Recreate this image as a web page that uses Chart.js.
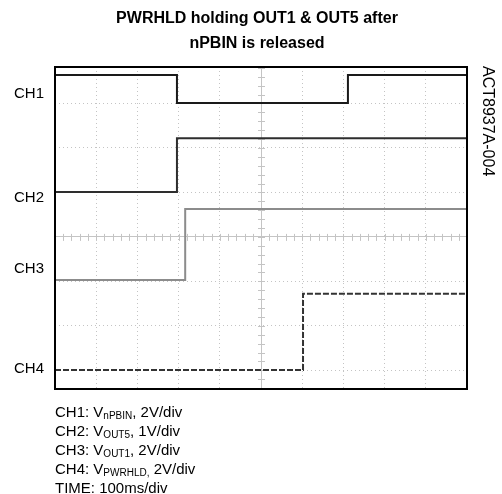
<!DOCTYPE html>
<html>
<head>
<meta charset="utf-8">
<script src="https://cdn.jsdelivr.net/npm/chart.js@4.4.1/dist/chart.umd.min.js"></script>
<style>
  body { margin: 0; background: #fff; font-family: "Liberation Sans", Arial, sans-serif; color: #000; }
  #wrap { position: absolute; left: 0; top: 0; width: 502px; height: 494px; }
  .title { position: absolute; left: 0; top: 5px; width: 514px; text-align: center;
           font-weight: bold; font-size: 16px; line-height: 25px; }
  .chlabel { position: absolute; left: 14px; font-size: 15px; line-height: 16px; }
  .side { position: absolute; left: 479px; top: 66px; writing-mode: vertical-rl;
          font-size: 16px; line-height: 18px; }
  .notes { position: absolute; left: 55px; top: 402px; font-size: 15px; line-height: 19px; }
  .notes span { font-size: 10px; line-height: 0; position: relative; top: 2px; }
</style>
</head>
<body>
<div id="wrap"><canvas id="scope"></canvas></div>
<div class="title">PWRHLD holding OUT1 &amp; OUT5 after<br>nPBIN is released</div>
<div class="side">ACT8937A-004</div>
<div id="labels"></div>
<div class="notes" id="notes"></div>

<script>
// Channel info
const channels = ['CH1', 'CH2', 'CH3', 'CH4'];
const signalNames = ['nPBIN', 'OUT5', 'OUT1', 'PWRHLD'];
const voltsPerDiv = ['2V/div', '1V/div', '2V/div', '2V/div'];
const timePerDiv = '100ms/div';
const labelTops = [85, 189, 260, 360];

// Traces, in screen divisions (x: 0..10 div, y: 0 = centre line)
const ch1Time = [0, 2.96, 7.11, 10];
const ch1Level = [3.64, 3.01, 3.64, 3.64];
const ch2Time = [0, 2.96, 10];
const ch2Level = [1.01, 2.22, 2.22];
const ch3Time = [0, 3.16, 10];
const ch3Level = [-0.97, 0.63, 0.63];
const ch4Time = [0, 6.02, 10];
const ch4Level = [-2.99, -1.28, -1.28];

// Visible part of the scope screen
const Y_MIN = -3.42;
const Y_MAX = 3.82;
const Y_GRID = [-3, -2, -1, 0, 1, 2, 3];

function toPoints(times, levels) {
  return times.map((t, i) => ({ x: t, y: levels[i] }));
}

// Text blocks
document.getElementById('labels').innerHTML = channels.map((ch, i) =>
  `<div class="chlabel" style="top:${labelTops[i]}px">${ch}</div>`).join('');

// the PWRHLD line has its comma inside the subscript
document.getElementById('notes').innerHTML = channels.map((ch, i) => {
  const sub = i === 3 ? `<span>${signalNames[i]},</span>` : `<span>${signalNames[i]}</span>,`;
  return `${ch}: V${sub} ${voltsPerDiv[i]}`;
}).join('<br>') + `<br>TIME: ${timePerDiv}`;

const GRID_GREY = '#c4c4c4';

// Frame and the small marks along the centre lines
const scopeFrame = {
  id: 'scopeFrame',
  beforeDatasetsDraw(chart) {
    const { ctx, scales: { x, y } } = chart;
    const cx = x.getPixelForValue(5);
    const cy = y.getPixelForValue(0);
    ctx.save();
    ctx.strokeStyle = GRID_GREY;
    ctx.lineWidth = 1;
    ctx.beginPath();
    for (let k = 1; k < 50; k++) {
      const px = Math.round(x.getPixelForValue(k / 5)) + 0.5;
      ctx.moveTo(px, cy - 3);
      ctx.lineTo(px, cy + 4);
    }
    for (let k = -17; k <= 19; k++) {
      const py = Math.round(y.getPixelForValue(k / 5)) + 0.5;
      ctx.moveTo(cx - 3, py);
      ctx.lineTo(cx + 4, py);
    }
    ctx.stroke();
    ctx.restore();
  },
  afterDraw(chart) {
    const { ctx, chartArea: a } = chart;
    ctx.save();
    ctx.strokeStyle = '#000';
    ctx.lineWidth = 2;
    ctx.strokeRect(a.left, a.top, a.right - a.left, a.bottom - a.top);
    ctx.restore();
  }
};

const ctx = document.getElementById('scope').getContext('2d');

new Chart(ctx, {
  type: 'line',
  data: {
    datasets: [
      { label: 'CH1', data: toPoints(ch1Time, ch1Level), borderColor: '#1a1a1a', borderWidth: 2 },
      { label: 'CH2', data: toPoints(ch2Time, ch2Level), borderColor: '#2e2e2e', borderWidth: 2 },
      { label: 'CH3', data: toPoints(ch3Time, ch3Level), borderColor: '#8c8c8c', borderWidth: 2 },
      { label: 'CH4', data: toPoints(ch4Time, ch4Level), borderColor: '#333333', borderWidth: 2, borderDash: [6, 2] }
    ]
  },
  options: {
    responsive: true,
    maintainAspectRatio: false,
    animation: false,
    layout: { padding: { left: 55, top: 67, right: 35, bottom: 105 } },
    elements: {
      point: { radius: 0 },
      line: { stepped: 'before', tension: 0, fill: false }
    },
    plugins: {
      legend: { display: false },
      tooltip: { enabled: false }
    },
    scales: {
      x: {
        type: 'linear',
        min: 0,
        max: 10,
        ticks: { display: false, stepSize: 1 },
        grid: {
          drawTicks: false,
          color: GRID_GREY,
          lineWidth: 1
        },
        border: {
          display: false,
          dash: (c) => (c.tick && c.tick.value === 5 ? [] : [1, 3])
        }
      },
      y: {
        type: 'linear',
        min: Y_MIN,
        max: Y_MAX,
        afterBuildTicks: (scale) => {
          scale.ticks = Y_GRID.map(v => ({ value: v }));
        },
        ticks: { display: false },
        grid: {
          drawTicks: false,
          color: GRID_GREY,
          lineWidth: 1
        },
        border: {
          display: false,
          dash: (c) => (c.tick && c.tick.value === 0 ? [] : [1, 3])
        }
      }
    }
  },
  plugins: [scopeFrame]
});
</script>
</body>
</html>
